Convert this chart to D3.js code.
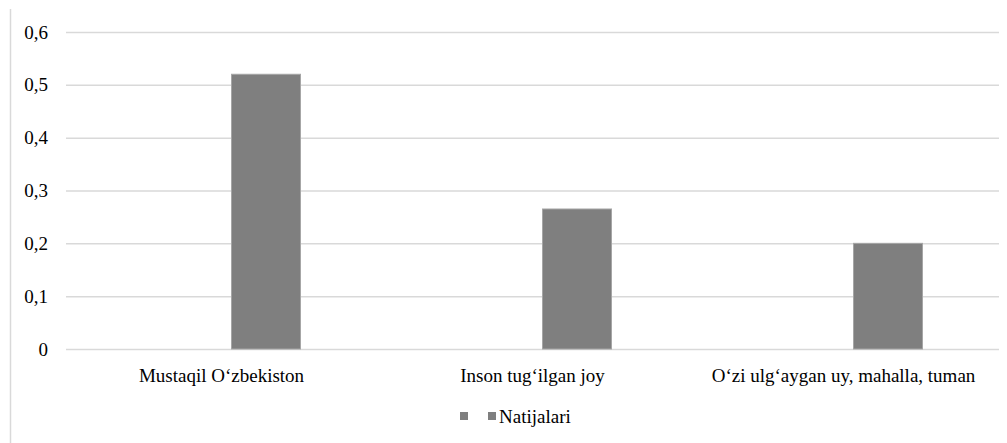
<!DOCTYPE html>
<html>
<head>
<meta charset="utf-8">
<script src="https://cdn.jsdelivr.net/npm/d3@7"></script>
<style>
  body { margin: 0; background: #fff; }
  svg text { font-family: "Liberation Serif", "Times New Roman", Times, "DejaVu Serif", serif; fill: #000; }
</style>
</head>
<body>
<div id="container"></div>
<script>
/* DATA */
const categories = ["Mustaqil O‘zbekiston", "Inson tug‘ilgan joy", "O‘zi ulg‘aygan uy, mahalla, tuman"];
const seriesNames = ["", "Natijalari"];
const emptySeries = [null, null, null];
const natijalari = [0.52, 0.265, 0.2];
const yTicks = [0, 0.1, 0.2, 0.3, 0.4, 0.5, 0.6];

/* CONSTANTS */
const width = 1007,
  height = 443,
  margin = { top: 32, bottom: 94, left: 66, right: 8 };
const serif = '"Liberation Serif", "Times New Roman", Times, "DejaVu Serif", serif';

const rows = categories.map((c, i) => ({ category: c, values: [emptySeries[i], natijalari[i]] }));

/* SCALES */
const xScale = d3.scaleBand()
  .domain(categories)
  .range([margin.left, width - margin.right])
  .padding(0);

const groupWidth = 158;
const xInner = d3.scaleBand()
  .domain(seriesNames)
  .range([(xScale.bandwidth() - groupWidth) / 2, (xScale.bandwidth() + groupWidth) / 2])
  .paddingInner(0.225);

const yScale = d3.scaleLinear()
  .domain([0, 0.6])
  .range([height - margin.bottom, margin.top]);

const fmt = d => d === 0 ? "0" : d3.format(".1f")(d).replace(".", ",");

/* HTML ELEMENTS */
const svg = d3.select("#container")
  .append("svg")
  .attr("width", width)
  .attr("height", height);

// left frame line
svg.append("line")
  .attr("x1", 10.5).attr("x2", 10.5)
  .attr("y1", 9).attr("y2", height)
  .attr("stroke", "#d9d9d9")
  .attr("stroke-width", 1.5);

// gridlines + y labels
svg.append("g")
  .attr("transform", `translate(${margin.left},0)`)
  .call(d3.axisLeft(yScale)
    .tickValues(yTicks)
    .tickSize(-(width - margin.left - margin.right))
    .tickFormat(fmt)
    .tickPadding(18))
  .call(g => g.attr("font-family", null))
  .call(g => g.select(".domain").remove())
  .call(g => g.selectAll(".tick line").attr("stroke", "#d9d9d9").attr("stroke-width", 1.5))
  .call(g => g.selectAll(".tick text")
    .style("font-family", serif)
    .style("font-size", "19px")
    .attr("fill", "#000"));

// bars
const group = svg.selectAll("g.cat")
  .data(rows)
  .join("g")
  .attr("class", "cat")
  .attr("transform", d => `translate(${xScale(d.category)},0)`);

group.selectAll("rect")
  .data(d => d.values.map((v, i) => ({ key: seriesNames[i], value: v })).filter(d => d.value != null))
  .join("rect")
  .attr("x", d => xInner(d.key))
  .attr("width", xInner.bandwidth())
  .attr("y", d => yScale(d.value))
  .attr("height", d => yScale(0) - yScale(d.value))
  .attr("fill", "#7f7f7f")
  .attr("stroke", "#a6a6a6")
  .attr("stroke-width", 1);

// x axis labels
svg.append("g")
  .attr("transform", `translate(0,${height - margin.bottom})`)
  .call(d3.axisBottom(xScale).tickSize(0).tickPadding(20))
  .call(g => g.attr("font-family", null))
  .call(g => g.select(".domain").remove())
  .call(g => g.selectAll(".tick text")
    .style("font-family", serif)
    .style("font-size", "19px")
    .attr("fill", "#000"));

// legend
const legend = svg.append("g")
  .attr("transform", "translate(460,416)");

const legendX = [0, 28];
legend.selectAll("rect")
  .data(seriesNames)
  .join("rect")
  .attr("x", (d, i) => legendX[i])
  .attr("y", -4)
  .attr("width", 8)
  .attr("height", 8)
  .attr("fill", "#7f7f7f");

legend.selectAll("text")
  .data(seriesNames)
  .join("text")
  .attr("x", (d, i) => legendX[i] + 11)
  .attr("y", 0)
  .attr("dy", "0.35em")
  .style("font-family", serif)
  .style("font-size", "19px")
  .text(d => d);
</script>
</body>
</html>
